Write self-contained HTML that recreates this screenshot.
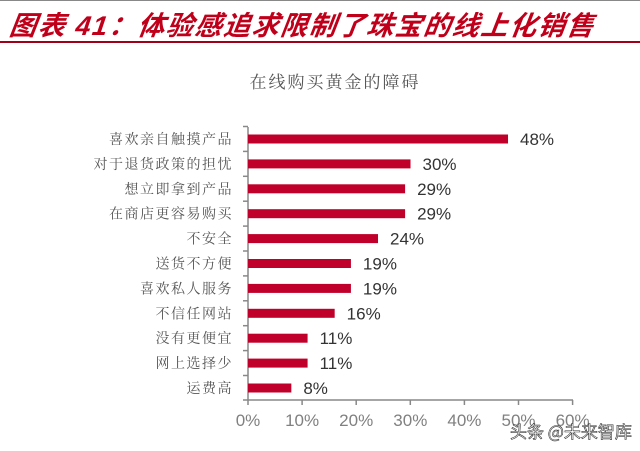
<!DOCTYPE html>
<html><head><meta charset="utf-8"><style>
body{margin:0;width:640px;height:451px;background:#fff;overflow:hidden;position:relative;font-family:"Liberation Sans","Noto Sans CJK SC",sans-serif}
.t{position:absolute;left:10px;top:4px;font-size:27px;font-weight:bold;font-style:italic;color:#c0001a;font-family:"Liberation Sans","Noto Sans CJK SC",sans-serif;letter-spacing:1.6px;transform:skewX(-8deg)}
.ln{position:absolute;left:0;top:41px;width:640px;height:2px;background:#a00018}
.top{position:absolute;left:0;top:0;width:640px;height:1px;background:#888}
</style></head><body>
<div class="top"></div>
<div class="t">图表 41：体验感追求限制了珠宝的线上化销售</div>
<div class="ln"></div>
<svg width="640" height="451" style="position:absolute;left:0;top:0">
<text x="335" y="88" text-anchor="middle" font-size="17" fill="#555" font-family="'Noto Serif CJK SC',serif" letter-spacing="2">在线购买黄金的障碍</text>
<g stroke="#888" stroke-width="1.5">
<line x1="248" y1="127" x2="248" y2="400"/>
<line x1="248" y1="400" x2="573" y2="400"/>
</g>
<g id="bars"></g>
</svg>
<div style="position:absolute;left:510px;top:418px;font-size:17px;color:#fff;-webkit-text-stroke:0.6px #333;font-family:'Noto Sans CJK SC',sans-serif">头条 @未来智库</div>
<script>
var d=[["喜欢亲自触摸产品",48],["对于退货政策的担忧",30],["想立即拿到产品",29],["在商店更容易购买",29],["不安全",24],["送货不方便",19],["喜欢私人服务",19],["不信任网站",16],["没有更便宜",11],["网上选择少",11],["运费高",8]];
var s="",x0=248,k=5.417;
d.forEach(function(r,i){var y=139+i*24.9;
s+='<rect x="'+x0+'" y="'+(y-4.5)+'" width="'+(r[1]*k)+'" height="9" fill="#c0002a"/>';
s+='<text x="'+(x0+r[1]*k+12)+'" y="'+(y+6)+'" font-size="17" fill="#333">'+r[1]+'%</text>';
s+='<text x="233" y="'+(y+5)+'" text-anchor="end" font-size="14" fill="#555" font-family="\'Noto Serif CJK SC\',serif" letter-spacing="1.5">'+r[0]+'</text>';
s+='<line x1="243" x2="248" y1="'+(y-12.5)+'" y2="'+(y-12.5)+'" stroke="#888" stroke-width="1.5"/>';
});
s+='<line x1="243" x2="248" y1="400" y2="400" stroke="#888" stroke-width="1.5"/>';
for(var j=0;j<=6;j++){var x=x0+j*54.1;s+='<line x1="'+x+'" x2="'+x+'" y1="400" y2="405" stroke="#888" stroke-width="1.5"/>';
s+='<text x="'+x+'" y="426" text-anchor="middle" font-size="17" fill="#808080">'+(j*10)+'%</text>';}
document.getElementById("bars").innerHTML=s;
</script>
</body></html>
